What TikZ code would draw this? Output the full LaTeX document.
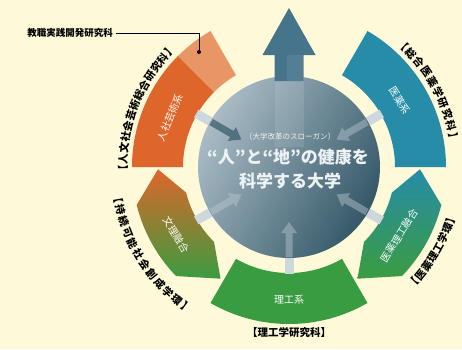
\documentclass[tikz,border=0pt]{standalone}
\usepackage{fontspec}
\newfontfamily\cjk{Noto Sans CJK JP}
\definecolor{bgc}{RGB}{254,249,216}
\definecolor{orng}{RGB}{222,102,42}
\definecolor{lorng}{RGB}{232,150,102}
\definecolor{tealc}{RGB}{38,140,168}
\definecolor{grn}{RGB}{58,156,64}
\definecolor{clight}{RGB}{170,188,198}
\definecolor{cdark}{RGB}{52,88,104}
\definecolor{arrc}{RGB}{70,116,138}
\definecolor{gapbar}{RGB}{205,215,222}
\definecolor{txtc}{RGB}{238,242,244}
\newcommand\arclabel[6]{% name, radius, start, step, rot offset, list
  \foreach \ch [count=\i from 0] in {#6} {
    \pgfmathsetmacro\ang{#3+\i*#4}
    \node[outlab, rotate=\ang+#5] (#1-\i) at (\ang:#2) {\ch};
  }
}
\tikzset{
  seglab/.style={font=\cjk\fontsize{10}{11}\selectfont, text=white, inner sep=0pt},
  outlab/.style={font=\cjk\bfseries\fontsize{10.5}{11}\selectfont, text=black, inner sep=0pt},
  gapbarst/.style={fill=gapbar},
  innarrow/.style={fill=#1, opacity=0.7}
}
\begin{document}
\begin{tikzpicture}[x=1pt,y=1pt]
\fill[bgc] (-289,-182) rectangle (173,167);
\useasboundingbox (-289,-182) rectangle (173,167);
\def\ri{106}
\def\ro{157}
% ring segments
\fill[tealc] (0:\ri) -- (0:\ro) arc[start angle=0,end angle=60,radius=\ro] -- (60:\ri) arc[start angle=60,end angle=0,radius=\ri] -- cycle;
\fill[lorng] (120:\ri) -- (120:\ro) arc[start angle=120,end angle=135,radius=\ro] -- (135:\ri) arc[start angle=135,end angle=120,radius=\ri] -- cycle;
\fill[orng] (135:\ri) -- (135:\ro) arc[start angle=135,end angle=180,radius=\ro] -- (180:\ri) arc[start angle=180,end angle=135,radius=\ri] -- cycle;
\fill[grn] (240:\ri) -- (240:\ro) arc[start angle=240,end angle=300,radius=\ro] -- (300:\ri) arc[start angle=300,end angle=240,radius=\ri] -- cycle;
\shade[top color=orng, bottom color=grn, middle color=orng!50!grn]
  (181:131) -- (194:157) arc[start angle=194,end angle=224,radius=157] -- (238.5:131) -- (225:106) arc[start angle=225,end angle=194,radius=106] -- cycle;
\shade[top color=tealc, bottom color=grn, middle color=tealc!50!grn]
  (-1:131) -- (-14:157) arc[start angle=-14,end angle=-44,radius=157] -- (-58.5:131) -- (-45:106) arc[start angle=-45,end angle=-14,radius=106] -- cycle;
% gap bars
\foreach \a in {30,150,210,270,330}{
  \fill[gapbarst, rotate=\a] (86,-4.5) rectangle (107,4.5);
}
% central circle
\shade[left color=clight, right color=cdark, shading angle=60] (0,0) circle (91);
% inner arrows
\fill[innarrow=cdark, rotate=150] (90,-3.5) -- (66,-3.5) -- (66,-8) -- (55,0) -- (66,8) -- (66,3.5) -- (90,3.5) -- cycle;
\foreach \a in {30,210,270,330}{
  \fill[innarrow=clight!80!white, opacity=0.45, rotate=\a] (90,-3.5) -- (66,-3.5) -- (66,-8) -- (55,0) -- (66,8) -- (66,3.5) -- (90,3.5) -- cycle;
}
% top arrow
\fill[white, opacity=0.1] (-14.5,20) rectangle (14.5,89);
\fill[arrc] (-14.5,86) -- (-14.5,112) -- (-26.5,112) -- (0,159) -- (26.5,112) -- (14.5,112) -- (14.5,86) -- cycle;
\fill[white, opacity=0.08] (-2,86) rectangle (14.5,112);
% segment labels
\node[seglab, rotate=67.5] (jinsha) at (157.5:129) {人社芸術系};
\node[seglab, rotate=-59] (iyaku) at (31:129) {医薬系};
\node[seglab] (riko) at (270:133) {理工系};
\node[seglab, rotate=-59] (bunri) at (211:132) {文理融合};
\node[seglab, rotate=58] (iyakuriko) at (-32:130) {医薬理工融合};
% center text
\node[font=\cjk\fontsize{7.5}{8}\selectfont, text=txtc, inner sep=0pt] (slogan) at (1,30) {〔大学改革のスローガン〕};
\node[font=\cjk\bfseries\fontsize{17}{18}\selectfont, text=txtc, inner sep=0pt] (line1) at (-1,10) {“人”と“地”の健康を};
\node[font=\cjk\bfseries\fontsize{17}{18}\selectfont, text=txtc, inner sep=0pt] (line2) at (1,-14) {科学する大学};
% outer labels
\arclabel{lt}{166}{181}{-3.8}{-90}{【,人,文,社,会,芸,術,総,合,研,究,科,】}
\arclabel{rt}{167}{47}{-4.1}{-90}{【,総,合,医,薬,学,研,究,科,】}
\arclabel{lb}{174}{190.2}{3.97}{90}{【,持,続,可,能,社,会,創,成,学,環,】}
\arclabel{rb}{170}{-43}{3.64}{90}{【,医,薬,理,工,学,環,】}
\node[outlab] (rikoken) at (0,-166) {【理工学研究科】};
% pointer label
\node[outlab, font=\cjk\bfseries\fontsize{9.5}{10}\selectfont, anchor=east] (kyoshoku) at (-176,134) {教職実践開発研究科};
\coordinate (dot) at (-90,115);
\draw[line width=0.6pt] (kyoshoku.east) ++(3,0) -- (-90,134) -- (dot);
\fill (dot) circle (2);
\end{tikzpicture}
\end{document}
